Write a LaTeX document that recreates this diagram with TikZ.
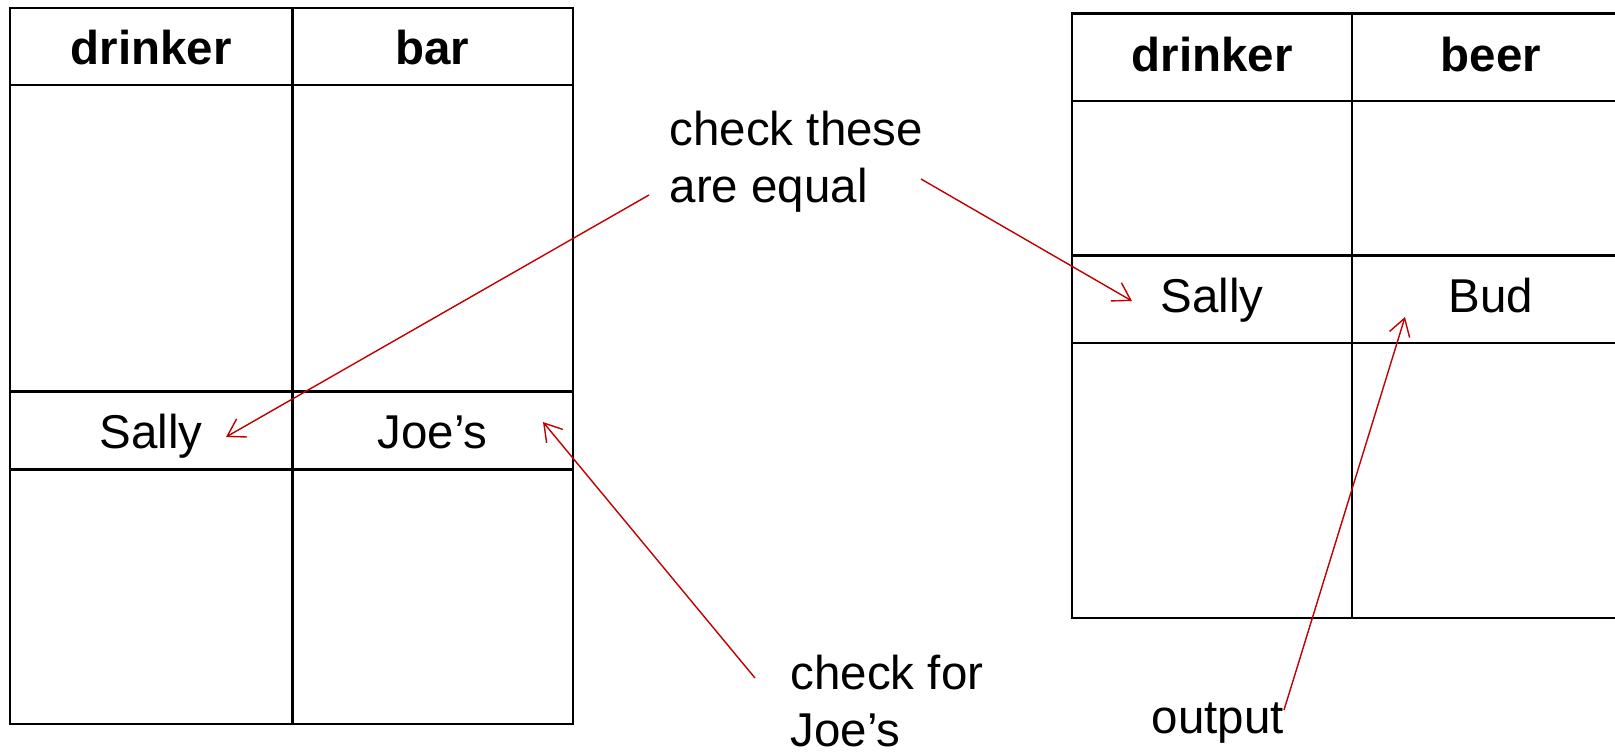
\documentclass[tikz,border=0pt]{standalone}
\usepackage{fontspec}
\setmainfont{Liberation Sans}
\usetikzlibrary{positioning, arrows.meta}

\definecolor{notered}{RGB}{192,0,0}

\begin{document}
\begin{tikzpicture}[x=0.01cm, y=-0.01cm, >={Straight Barb[length=1.7mm, width=2.1mm]}]
    % Styles
    \tikzstyle{grid} = [draw=black, line width=0.6pt]
    \tikzstyle{head} = [inner sep=0pt, anchor=base, font=\fontsize{13.5pt}{16.2pt}\selectfont\bfseries]
    \tikzstyle{cell} = [inner sep=0pt, anchor=base, font=\fontsize{13.5pt}{16.2pt}\selectfont]
    \tikzstyle{note} = [inner sep=0pt, anchor=base west, align=left, font=\fontsize{13.5pt}{16.2pt}\selectfont]
    \tikzstyle{pointer} = [->, draw=notered, line width=0.4pt]

    \useasboundingbox (0,0) rectangle (1615,751);

    % Left table (drinker, bar)
    \draw[grid] (10,8) rectangle (573,724);
    \draw[grid] (292.5,8) -- (292.5,724);
    \draw[grid] (10,85) -- (573,85);
    \draw[grid] (10,391.5) -- (573,391.5);
    \draw[grid] (10,469.5) -- (573,469.5);

    \node[head] (ldrinker) at (151,64) {drinker};
    \node[head] (lbar) at (432.5,64) {bar};
    \node[cell] (lsally) at (151,448) {Sally};
    \node[cell] (ljoes) at (432.5,448) {Joe’s};

    % Right table (drinker, beer)
    \draw[grid] (1615,13.5) -- (1072,13.5) -- (1072,618) -- (1615,618);
    \draw[grid] (1352,13.5) -- (1352,618);
    \draw[grid] (1072,101) -- (1615,101);
    \draw[grid] (1072,255.5) -- (1615,255.5);
    \draw[grid] (1072,343) -- (1615,343);

    \node[head] (rdrinker) at (1212,71) {drinker};
    \node[head] (rbeer) at (1491,71) {beer};
    \node[cell] (rsally) at (1212,312) {Sally};
    \node[cell] (rbud) at (1491,312) {Bud};

    % Notes (base is the last line)
    \node[note] (equal) at (669,202) {check these\\are equal};
    \node[note] (joes) at (790,746) {check for\\Joe’s};
    \node[note] (output) at (1151,733) {output};

    % Pointers
    \coordinate (eqL) at (649,195);
    \coordinate (eqR) at (921,179);
    \coordinate (sallyL) at (226,437);
    \coordinate (sallyR) at (1132,301);
    \coordinate (joesA) at (755,678);
    \coordinate (joesB) at (543,422);
    \coordinate (outA) at (1284,710);
    \coordinate (outB) at (1405,317);

    \draw[pointer] (eqL) -- (sallyL);
    \draw[pointer] (eqR) -- (sallyR);
    \draw[pointer] (joesA) -- (joesB);
    \draw[pointer] (outA) -- (outB);

\end{tikzpicture}
\end{document}
